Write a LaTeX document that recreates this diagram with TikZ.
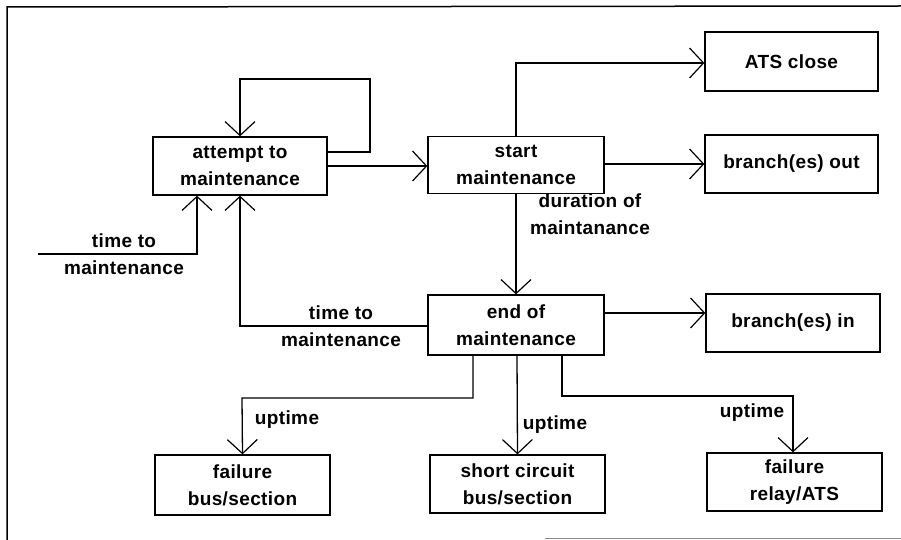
\documentclass[tikz,border=0pt]{standalone}
\usepackage{fontspec}
\setmainfont{Liberation Sans}[LetterSpace=2]
\usetikzlibrary{arrows.meta}
\begin{document}
\begin{tikzpicture}[x=1pt,y=-1pt,
  every node/.style={font=\bfseries\fontsize{19}{27}\selectfont},
  box/.style={draw,line width=1.3pt,inner sep=0pt,align=center},
  lbl/.style={align=center,inner sep=0pt},
  conn/.style={line width=1.3pt},
  arr/.style={conn,-{Straight Barb[length=14pt,width=30pt,line width=1.2pt]}}]
\useasboundingbox (0,0) rectangle (901,540);
% outer frame
\draw[line width=1.5pt] (7,541) -- (7,7) -- (901,6);
\draw[line width=1pt,black!45] (545,538) -- (901,538);

% state boxes
\node[box,minimum width=174pt,minimum height=58pt] (att) at (240,166) {attempt to\\maintenance};
\node[box,minimum width=176pt,minimum height=57pt] (start) at (516,165) {start\\maintenance};
\node[box,minimum width=173pt,minimum height=59pt] (ats) at (791.5,61.5) {ATS close};
\node[box,minimum width=173pt,minimum height=58pt] (bout) at (791.5,164) {branch(es) out};
\node[box,minimum width=176pt,minimum height=60pt] (endm) at (516,325) {end of\\maintenance};
\node[box,minimum width=174pt,minimum height=58pt] (bin) at (793,323) {branch(es) in};
\node[box,minimum width=175pt,minimum height=60pt] (fbus) at (242.5,485) {failure\\bus/section};
\node[box,minimum width=175pt,minimum height=58pt] (sc) at (517.5,484) {short circuit\\bus/section};
\node[box,minimum width=175pt,minimum height=58pt] (frel) at (794.5,482) {failure\\relay/ATS};

% connectors
\draw[arr] (att.east |- 0,152) -- (370,152) -- (370,79) -- (240,79) -- (att.north);
\draw[arr] (att.east |- 0,166) -- (start.west |- 0,166);
\draw[arr] (start.north) -- (516,63) -- (ats.west |- 0,63);
\draw[arr] (start.east |- 0,164) -- (bout.west |- 0,164);
\draw[arr] (start.south) -- (endm.north);
\draw[arr] (endm.east |- 0,313) -- (bin.west |- 0,313);
\draw[arr] (endm.west |- 0,326) -- (240,326) -- (att.south);
\coordinate (tin) at (38,254);
\draw[arr] (tin) -- (197,254) -- (att.south -| 197,0);
\draw[arr] (endm.south -| 473,0) -- (473,398) -- (242,398) -- (fbus.north);
\draw[arr] (endm.south -| 517,0) -- (sc.north);
\draw[arr] (endm.south -| 562,0) -- (562,396) -- (793,396) -- (frel.north -| 793,0);

% connector labels
\node[lbl] (l1) at (124,254) {time to\\maintenance};
\node[lbl] (l2) at (590,214) {duration of\\maintanance};
\node[lbl] (l3) at (341,326) {time to\\maintenance};
\node[lbl] (l4) at (287,420) {uptime};
\node[lbl] (l5) at (555,425) {uptime};
\node[lbl] (l6) at (752,413) {uptime};
\end{tikzpicture}
\end{document}
